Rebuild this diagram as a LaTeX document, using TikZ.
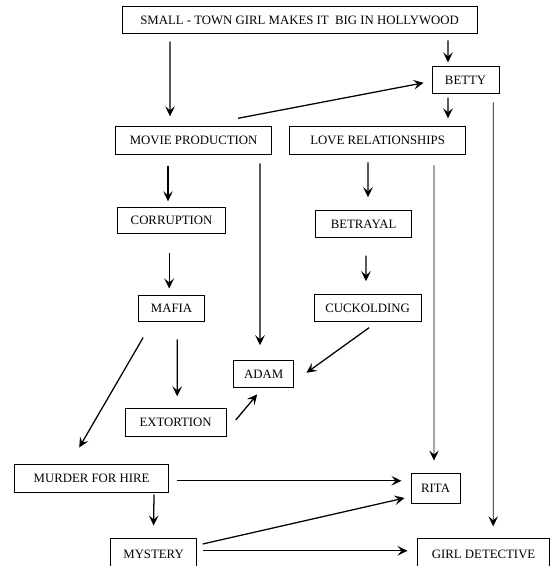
\documentclass[tikz,border=0pt]{standalone}
\usepackage{fontspec}
\setmainfont{Liberation Serif}
\usepackage{tikz}
\usetikzlibrary{arrows.meta}
\tikzstyle{block} = [rectangle, minimum height=0.7cm, inner sep=0pt, text centered, draw=black, line width=0.7pt, font=\fontsize{9.1}{11}\selectfont]
\tikzstyle{arrow} = [line width=0.9pt,->,>={Stealth[length=2.5mm,width=2.4mm,inset=1mm]}]
\tikzstyle{longline} = [line width=0.6pt]

\begin{document}
\begin{tikzpicture}[node distance=2cm]
	\useasboundingbox (-7.49,0.51) rectangle (6.36,-13.64);
	\node (top) [block, minimum width=8.875cm, minimum height=0.675cm] {SMALL - TOWN GIRL MAKES IT \ BIG IN HOLLYWOOD};
	\node (betty) [block, below of=top, xshift=4.15cm, yshift=0.5cm, minimum width=1.675cm, minimum height=0.675cm] {BETTY};
	\node (movie) [block, below of=top, xshift=-2.65cm, yshift=-1cm, minimum width=3.9cm] {MOVIE PRODUCTION};
	\node (love) [block, right of=movie, xshift=2.6cm, minimum width=4.4cm] {LOVE RELATIONSHIPS};
	\node (corruption) [block, below of=movie, xshift=-0.55cm, minimum width=2.7cm, minimum height=0.65cm] {CORRUPTION};
	\node (mafia) [block, below of=corruption, yshift=-0.2cm, minimum width=1.65cm, minimum height=0.65cm] {MAFIA};
	\node (betrayal) [block, below of=love, xshift=-0.35cm, yshift=-0.1cm, minimum width=2.4cm, minimum height=0.675cm] {BETRAYAL};
	\node (cuckolding) [block, below of=betrayal, xshift=0.1cm, yshift=-0.1cm, minimum width=2.675cm, minimum height=0.675cm] {CUCKOLDING};
	\node (adam) [block, below of=mafia, xshift=2.3cm, yshift=0.35cm, minimum width=1.5cm, minimum height=0.675cm] {ADAM};
	\node (extortion) [block, below of=mafia, xshift=0.1cm, yshift=-0.85cm, minimum width=2.525cm] {EXTORTION};
	\node (murder) [block, below of=extortion, xshift=-2.1cm, yshift=0.6cm, minimum width=3.85cm] {MURDER FOR HIRE};
	\node (rita) [block, right of=murder, xshift=6.6cm, yshift=-0.25cm, minimum width=1.225cm, minimum height=0.75cm] {RITA};
	\node (mystery) [block, below of=murder, xshift=1.55cm, yshift=0.1cm, minimum width=2.15cm, minimum height=0.8cm] {MYSTERY};
	\node (gd) [block, right of=mystery, xshift=6.25cm, minimum width=3.3cm, minimum height=0.8cm] {GIRL DETECTIVE};

	\draw [arrow] ([xshift=-3.24cm,yshift=-0.18cm]top.south) -- ([xshift=-0.59cm,yshift=0.24cm]movie.north);
	\draw [arrow] ([xshift=3.71cm,yshift=-0.15cm]top.south) -- ([xshift=-0.44cm,yshift=0.1cm]betty.north);
	\draw [arrow] ([xshift=1.11cm,yshift=0.19cm]movie.north) -- ([xshift=-0.2cm,yshift=-0.06cm]betty.west);
	\draw [arrow] ([xshift=-0.44cm,yshift=-0.08cm]betty.south) -- ([xshift=1.76cm,yshift=0.19cm]love.north);
	\draw [arrow] ([xshift=-0.64cm,yshift=-0.29cm]movie.south) -- ([xshift=-0.09cm,yshift=0.14cm]corruption.north);
	\draw [arrow] ([xshift=-0.06cm,yshift=-0.49cm]corruption.south) -- ([xshift=-0.06cm,yshift=0.16cm]mafia.north);
	\draw [arrow] ([xshift=-0.24cm,yshift=-0.19cm]love.south) -- ([xshift=0.11cm,yshift=0.33cm]betrayal.north);
	\draw [arrow] ([xshift=0.06cm,yshift=-0.43cm]betrayal.south) -- ([xshift=-0.04cm,yshift=0.33cm]cuckolding.north);
	\draw [arrow] ([xshift=1.66cm,yshift=-0.21cm]movie.south) -- ([xshift=-0.09cm,yshift=0.38cm]adam.north);
	\draw [arrow, longline] ([xshift=1.41cm,yshift=-0.26cm]love.south) -- ([xshift=-0.04cm,yshift=0.31cm]rita.north);
	\draw [arrow, longline] ([xshift=0.69cm,yshift=-0.2cm]betty.south) -- ([xshift=0.24cm,yshift=0.29cm]gd.north);
	\draw [arrow] ([xshift=-0.71cm,yshift=-0.39cm]mafia.south) -- ([xshift=-0.31cm,yshift=0.41cm]murder.north);
	\draw [arrow] ([xshift=0.14cm,yshift=-0.44cm]mafia.south) -- ([xshift=0.04cm,yshift=0.29cm]extortion.north);
	\draw [arrow] ([xshift=0.04cm,yshift=-0.13cm]cuckolding.south) -- ([xshift=0.31cm,yshift=0.04cm]adam.east);
	\draw [arrow] ([xshift=0.23cm,yshift=0.06cm]extortion.east) -- ([xshift=-0.16cm,yshift=-0.15cm]adam.south);
	\draw [arrow] ([xshift=0.19cm,yshift=-0.06cm]murder.east) -- ([xshift=-0.23cm,yshift=0.19cm]rita.west);
	\draw [arrow] ([xshift=1.56cm,yshift=-0.04cm]murder.south) -- ([yshift=0.31cm]mystery.north);
	\draw [arrow] ([xshift=0.14cm,yshift=0.26cm]mystery.east) -- ([xshift=-0.15cm,yshift=-0.24cm]rita.west);
	\draw [arrow] ([xshift=0.16cm,yshift=0.09cm]mystery.east) -- ([xshift=-0.24cm,yshift=0.09cm]gd.west);
\end{tikzpicture}
\end{document}
